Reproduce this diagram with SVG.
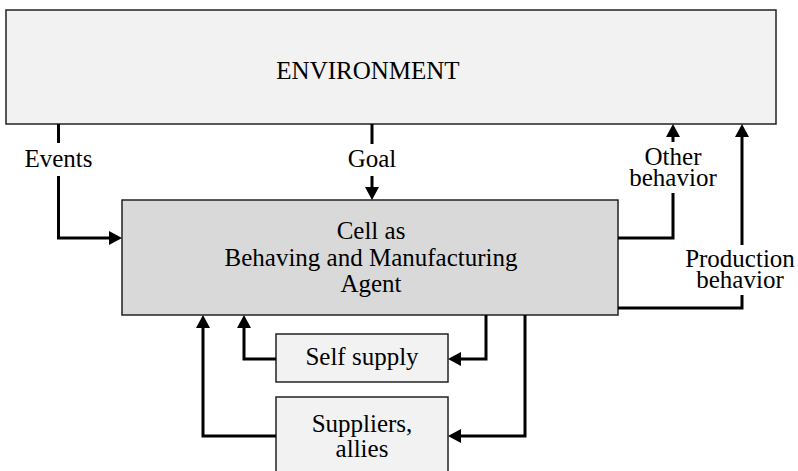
<svg xmlns="http://www.w3.org/2000/svg" width="798" height="471" viewBox="0 0 798 471">
  <defs>
    <marker id="arr" markerUnits="userSpaceOnUse" markerWidth="14" markerHeight="14" refX="7" refY="7" orient="auto">
      <path d="M0,0 L13,7 L0,14 z" fill="#000"/>
    </marker>
  </defs>
  <rect width="798" height="471" fill="#fff"/>

  <g id="environment">
    <rect x="6" y="10" width="770" height="114" fill="#f2f2f2" stroke="#222" stroke-width="1.5"/>
    <text x="368" y="79" font-family="Liberation Serif" font-size="25" text-anchor="middle">ENVIRONMENT</text>
  </g>

  <g id="cell">
    <rect x="122" y="200" width="496" height="115" fill="#d9d9d9" stroke="#222" stroke-width="1.5"/>
    <text x="371" y="239" font-family="Liberation Serif" font-size="25" text-anchor="middle">Cell as</text>
    <text x="371" y="266" font-family="Liberation Serif" font-size="25" text-anchor="middle">Behaving and Manufacturing</text>
    <text x="371" y="292" font-family="Liberation Serif" font-size="25" text-anchor="middle">Agent</text>
  </g>

  <g id="self-supply">
    <rect x="276" y="334" width="172" height="48" fill="#f2f2f2" stroke="#222" stroke-width="1.5"/>
    <text x="362" y="365" font-family="Liberation Serif" font-size="25" text-anchor="middle">Self supply</text>
  </g>

  <g id="suppliers">
    <rect x="276" y="397" width="172" height="90" fill="#f2f2f2" stroke="#222" stroke-width="1.5"/>
    <text x="362" y="432" font-family="Liberation Serif" font-size="25" text-anchor="middle">Suppliers,</text>
    <text x="362" y="457" font-family="Liberation Serif" font-size="25" text-anchor="middle">allies</text>
  </g>

  <g id="connectors" fill="none" stroke="#000" stroke-width="3">
    <path d="M58.5,124 V143"/>
    <path d="M58.5,176 V238 H116" marker-end="url(#arr)"/>
    <path d="M372,124 V144"/>
    <path d="M372,176 V194" marker-end="url(#arr)"/>
    <path d="M618,238 H673 V193"/>
    <path d="M673,142 V130" marker-end="url(#arr)"/>
    <path d="M618,308 H742 V295"/>
    <path d="M742,245 V130" marker-end="url(#arr)"/>
    <path d="M486,315 V359 H454" marker-end="url(#arr)"/>
    <path d="M276,359 H244 V321" marker-end="url(#arr)"/>
    <path d="M525,315 V436 H454" marker-end="url(#arr)"/>
    <path d="M276,436 H203 V321" marker-end="url(#arr)"/>
  </g>

  <g id="labels">
    <text x="58.5" y="167" font-family="Liberation Serif" font-size="25" text-anchor="middle">Events</text>
    <text x="372" y="167" font-family="Liberation Serif" font-size="25" text-anchor="middle">Goal</text>
    <text x="673" y="165" font-family="Liberation Serif" font-size="25" text-anchor="middle">Other</text>
    <text x="673" y="186" font-family="Liberation Serif" font-size="25" text-anchor="middle">behavior</text>
    <text x="740" y="267" font-family="Liberation Serif" font-size="25" text-anchor="middle">Production</text>
    <text x="740" y="288" font-family="Liberation Serif" font-size="25" text-anchor="middle">behavior</text>
  </g>
</svg>
